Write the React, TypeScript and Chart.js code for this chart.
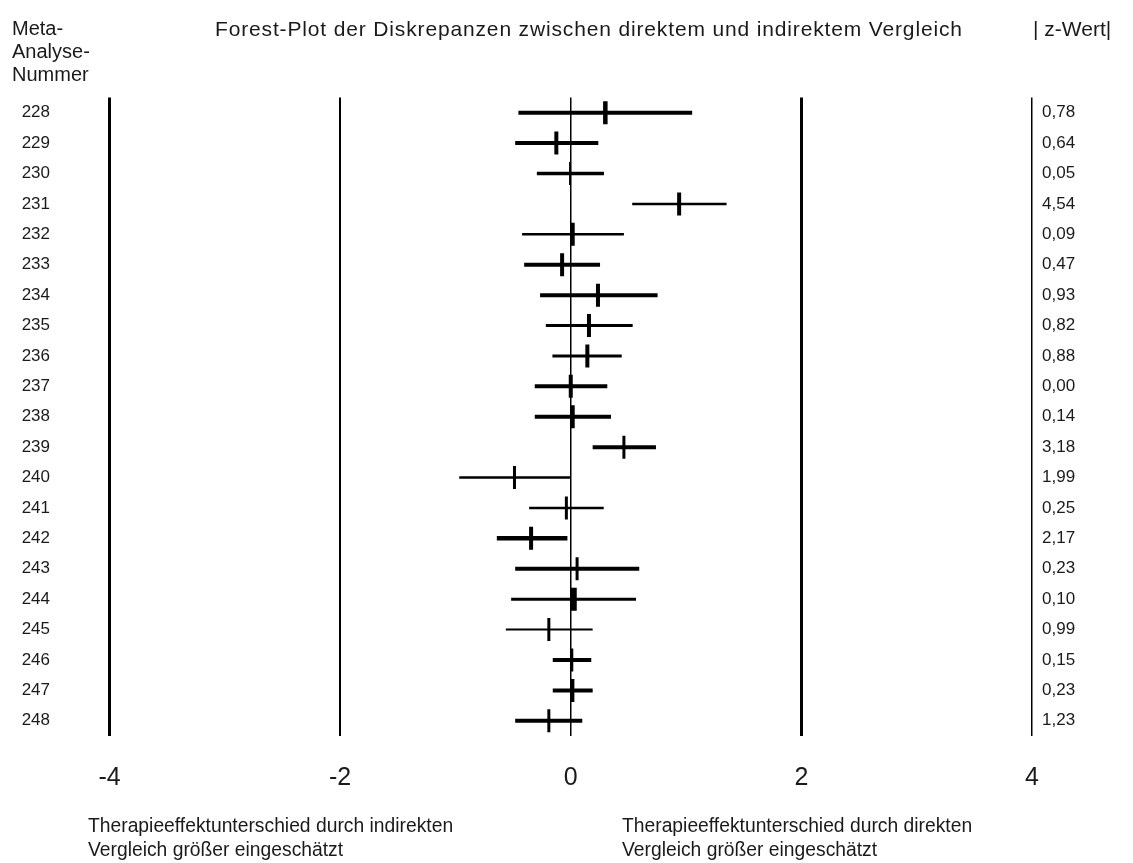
import React, { useEffect, useRef } from 'react';
import { Chart, registerables } from 'chart.js';

Chart.register(...registerables);

// ---- data ----
const rowLabels = ['228', '229', '230', '231', '232', '233', '234', '235', '236', '237', '238', '239', '240', '241', '242', '243', '244', '245', '246', '247', '248'];
const estimates = [0.3, -0.125, -0.006, 0.94, 0.017, -0.075, 0.236, 0.158, 0.144, 0.0, 0.017, 0.461, -0.488, -0.038, -0.344, 0.055, 0.026, -0.19, 0.009, 0.014, -0.19];
const lowers = [-0.454, -0.482, -0.294, 0.533, -0.422, -0.404, -0.266, -0.216, -0.159, -0.312, -0.312, 0.19, -0.967, -0.361, -0.641, -0.482, -0.517, -0.563, -0.156, -0.156, -0.482];
const uppers = [1.053, 0.239, 0.288, 1.351, 0.461, 0.254, 0.753, 0.537, 0.442, 0.317, 0.349, 0.739, 0.0, 0.286, -0.029, 0.594, 0.566, 0.19, 0.178, 0.19, 0.1];
const zValues = ['0,78', '0,64', '0,05', '4,54', '0,09', '0,47', '0,93', '0,82', '0,88', '0,00', '0,14', '3,18', '1,99', '0,25', '2,17', '0,23', '0,10', '0,99', '0,15', '0,23', '1,23'];
const xTicks = [-4, -2, 0, 2, 4];

// ---- styles ----
const ciWidths = [4, 4, 3.5, 2.5, 2.5, 4, 4, 3, 3, 4, 4, 4, 2.5, 2.5, 4.5, 4, 3, 2, 4, 4, 4];
const markerWidths = [4.5, 4, 2, 4, 4, 4, 4, 4, 4, 4, 4, 3, 3, 3, 4, 3, 6, 3, 3, 4, 3];
const gridWidths = [3, 2, 1.5, 3, 1.5];
const FONT = '"Liberation Sans", Arial, Helvetica, sans-serif';
const TEXT = '#1a1a1a';

export default function App() {
  const ref = useRef<HTMLCanvasElement | null>(null);

  useEffect(() => {
    if (!ref.current) return;
    const ciSets: any[] = rowLabels.map((_, i) => ({
      type: 'line',
      data: [
        { x: lowers[i], y: i },
        { x: uppers[i], y: i },
      ],
      borderColor: '#000',
      borderWidth: ciWidths[i],
      borderCapStyle: 'butt',
      pointRadius: 0,
      fill: false,
      yAxisID: 'y',
      order: 1,
    }));
    const estSet: any = {
      type: 'scatter',
      data: estimates.map((v, i) => ({ x: v, y: i })),
      showLine: false,
      pointStyle: 'line',
      pointRadius: 11.5,
      pointRotation: 90,
      pointBorderWidth: markerWidths,
      pointBorderColor: '#000',
      pointBackgroundColor: '#000',
      yAxisID: 'y',
      order: 0,
    };

    const rowScale = (position: 'left' | 'right', labels: string[], padding: number, width: number): any => ({
      type: 'linear',
      position,
      reverse: true,
      min: -0.5,
      max: 20.5,
      afterBuildTicks: (s: any) => {
        s.ticks = labels.map((_, i) => ({ value: i }));
      },
      afterFit: (s: any) => {
        s.width = width;
      },
      ticks: {
        autoSkip: false,
        padding,
        color: TEXT,
        font: { family: FONT, size: 17 },
        callback: (v: any) => labels[v] ?? '',
      },
      grid: { display: false, drawTicks: false },
      border: { display: false },
    });

    const chart = new Chart(ref.current, {
      type: 'line',
      data: { datasets: [...ciSets, estSet] },
      options: {
        animation: false,
        responsive: true,
        maintainAspectRatio: false,
        events: [],
        layout: { padding: { top: 97.5, left: 0, right: 0, bottom: 0 } },
        plugins: { legend: { display: false }, tooltip: { enabled: false }, title: { display: false } },
        scales: {
          x: {
            type: 'linear',
            position: 'bottom',
            min: -4,
            max: 4,
            afterBuildTicks: (s: any) => {
              s.ticks = xTicks.map((v) => ({ value: v }));
            },
            afterFit: (s: any) => {
              s.height = 127;
            },
            ticks: {
              padding: 27,
              color: TEXT,
              font: { family: FONT, size: 25 },
            },
            grid: {
              color: '#000',
              drawTicks: false,
              lineWidth: (ctx: any) => gridWidths[ctx.index] ?? 1,
            },
            border: { display: false },
          },
          y: rowScale('left', rowLabels, 59.5, 109.5),
          y2: rowScale('right', zValues, 10, 101),
        },
      } as any,
    });
    return () => chart.destroy();
  }, []);

  const txt = (left: number, top: number, size: number, content: React.ReactNode, lh = 23, ls = 0): React.ReactNode => (
    <div
      style={{
        position: 'absolute',
        left,
        top,
        fontFamily: FONT,
        fontSize: size,
        lineHeight: `${lh}px`,
        letterSpacing: ls,
        color: TEXT,
        whiteSpace: 'nowrap',
      }}
    >
      {content}
    </div>
  );

  return (
    <div style={{ position: 'fixed', left: 0, top: 0, width: 1133, height: 863, background: '#fff' }}>
      <canvas ref={ref} style={{ position: 'absolute', left: 0, top: 0 }} />
      {txt(12, 17, 20, <>Meta-<br />Analyse-<br />Nummer</>)}
      {txt(215, 17, 21, 'Forest-Plot der Diskrepanzen zwischen direktem und indirektem Vergleich', 23, 0.85)}
      {txt(1033, 17, 21, '| z-Wert|')}
      {txt(88, 814, 19.3, <>Therapieeffektunterschied durch indirekten<br />Vergleich größer eingeschätzt</>, 24)}
      {txt(622, 814, 19.3, <>Therapieeffektunterschied durch direkten<br />Vergleich größer eingeschätzt</>, 24)}
    </div>
  );
}
